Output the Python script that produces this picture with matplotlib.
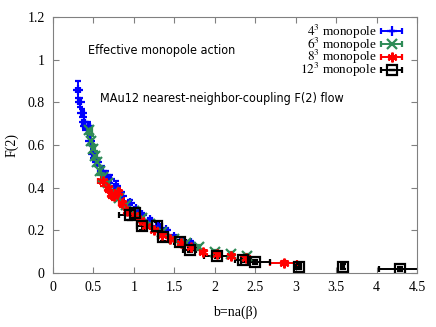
import matplotlib
matplotlib.use('Agg')
import matplotlib.pyplot as plt
from matplotlib.container import ErrorbarContainer
from matplotlib.legend_handler import HandlerErrorbar

# 4^3 lattice
b4 = [0.31, 0.33, 0.36, 0.38, 0.40, 0.43, 0.46, 0.50, 0.55, 0.60, 0.65, 0.70,
      0.78, 0.85, 0.95, 1.02, 1.10, 1.20, 1.30, 1.40, 1.50, 1.60, 1.70]
f4 = [0.86, 0.80, 0.75, 0.71, 0.69, 0.69, 0.62, 0.56, 0.52, 0.48, 0.46, 0.44,
      0.41, 0.36, 0.33, 0.30, 0.27, 0.25, 0.22, 0.20, 0.17, 0.15, 0.14]
db4 = [0.02, 0.02, 0.02, 0.02, 0.03, 0.03, 0.02, 0.02, 0.02, 0.02, 0.02, 0.02,
       0.02, 0.02, 0.02, 0.02, 0.02, 0.02, 0.02, 0.02, 0.02, 0.02, 0.02]
df4 = [0.04, 0.02, 0.02, 0.02, 0.02, 0.02, 0.02, 0.02, 0.02, 0.02, 0.02, 0.02,
       0.02, 0.02, 0.01, 0.01, 0.01, 0.01, 0.01, 0.01, 0.01, 0.01, 0.01]

# 6^3 lattice
b6 = [0.45, 0.47, 0.50, 0.52, 0.55, 0.58, 0.62, 0.68, 0.75, 0.82, 0.90, 1.00,
      1.10, 1.20, 1.35, 1.50, 1.65, 1.80, 2.00, 2.20, 2.40]
f6 = [0.67, 0.62, 0.58, 0.55, 0.52, 0.48, 0.45, 0.42, 0.38, 0.35, 0.32, 0.29,
      0.26, 0.23, 0.19, 0.16, 0.14, 0.12, 0.10, 0.09, 0.08]
db6 = [0.03, 0.02, 0.02, 0.02, 0.02, 0.02, 0.02, 0.02, 0.02, 0.02, 0.02, 0.02,
       0.02, 0.02, 0.02, 0.02, 0.02, 0.02, 0.02, 0.02, 0.02]
df6 = [0.02, 0.02, 0.02, 0.02, 0.02, 0.02, 0.02, 0.01, 0.01, 0.01, 0.01, 0.01,
       0.01, 0.01, 0.01, 0.01, 0.01, 0.01, 0.01, 0.01, 0.01]

# 8^3 lattice
b8 = [0.62, 0.68, 0.72, 0.76, 0.80, 0.85, 0.92, 1.00, 1.08, 1.15, 1.25, 1.35,
      1.45, 1.58, 1.70, 1.85, 2.03, 2.20, 2.38, 2.85]
f8 = [0.43, 0.40, 0.37, 0.36, 0.38, 0.33, 0.29, 0.27, 0.25, 0.22, 0.20, 0.18,
      0.16, 0.14, 0.12, 0.10, 0.09, 0.08, 0.07, 0.047]
db8 = [0.06, 0.03, 0.03, 0.03, 0.03, 0.03, 0.03, 0.03, 0.03, 0.03, 0.03, 0.03,
       0.03, 0.03, 0.03, 0.03, 0.04, 0.04, 0.05, 0.17]
df8 = [0.02, 0.02, 0.02, 0.02, 0.02, 0.02, 0.02, 0.01, 0.01, 0.01, 0.01, 0.01,
       0.01, 0.01, 0.01, 0.01, 0.01, 0.01, 0.01, 0.01]

# 12^3 lattice
b12 = [0.95, 1.01, 1.10, 1.29, 1.36, 1.57, 1.69, 2.03, 2.35, 2.50, 3.04, 3.58, 4.29]
f12 = [0.27, 0.28, 0.22, 0.22, 0.17, 0.145, 0.11, 0.08, 0.06, 0.05, 0.03, 0.03, 0.02]
db12 = [0.13, 0.06, 0.06, 0.06, 0.06, 0.08, 0.08, 0.16, 0.10, 0.18, 0.03, 0.02, 0.26]
df12 = [0.02, 0.02, 0.02, 0.02, 0.02, 0.01, 0.01, 0.01, 0.01, 0.01, 0.01, 0.01, 0.01]

series = [
    (b4, f4, db4, df4, '#0000ff', '+', r'$4^3$ monopole'),
    (b6, f6, db6, df6, '#2e8b57', 'x', r'$6^3$ monopole'),
    (b8, f8, db8, df8, '#ff0000', (6, 2, 0), r'$8^3$ monopole'),
    (b12, f12, db12, df12, '#000000', 's', r'$12^3$ monopole'),
]

plt.rcParams['font.family'] = 'Liberation Serif'
plt.rcParams['mathtext.fontset'] = 'stix'

fig = plt.figure(figsize=(4.36, 3.27), dpi=100)
ax = fig.add_axes([53 / 436, 54 / 327, 364 / 436, 256 / 327])

for b, f, db, df, col, mk, lab in series:
    face = 'none' if mk == 's' else col
    ax.errorbar(b, f, xerr=db, yerr=df, marker=mk, ls='none', color=col,
                ecolor=col, elinewidth=1.4, capsize=2.5, capthick=1.4,
                ms=7, mec=col, mfc=face, mew=1.6, label=lab)

ax.set_xlim(0, 4.5)
ax.set_ylim(0, 1.2)
ax.set_xticks([0, 0.5, 1, 1.5, 2, 2.5, 3, 3.5, 4, 4.5])
ax.set_xticklabels(['0', '0.5', '1', '1.5', '2', '2.5', '3', '3.5', '4', '4.5'])
ax.set_yticks([0, 0.2, 0.4, 0.6, 0.8, 1, 1.2])
ax.set_yticklabels(['0', '0.2', '0.4', '0.6', '0.8', '1', '1.2'])
ax.tick_params(direction='in', top=True, right=True, length=4, color='#808080',
               labelsize=10, pad=6)
for s in ax.spines.values():
    s.set_color('#808080')

ax.set_xlabel('b=na(β)', fontsize=10, labelpad=8)
ax.set_ylabel('F(2)', fontsize=10, labelpad=6)

ax.text(0.43, 1.045, 'Effective monopole action', family='DejaVu Sans',
        stretch='condensed', fontsize=9, va='center')
ax.text(0.58, 0.82, 'MAu12 nearest-neighbor-coupling F(2) flow',
        family='DejaVu Sans', stretch='condensed', fontsize=9, va='center')

ax.legend(loc='upper right', bbox_to_anchor=(410 / 436, 1 - 16 / 327),
          bbox_transform=fig.transFigure, borderpad=0, markerfirst=False,
          frameon=False, fontsize=9.5, handlelength=1.8, labelspacing=-0.4,
          handletextpad=0.2,
          handler_map={ErrorbarContainer: HandlerErrorbar(xerr_size=0.8,
                                                          yerr_size=0)})

fig.savefig('out.png', dpi=100)
